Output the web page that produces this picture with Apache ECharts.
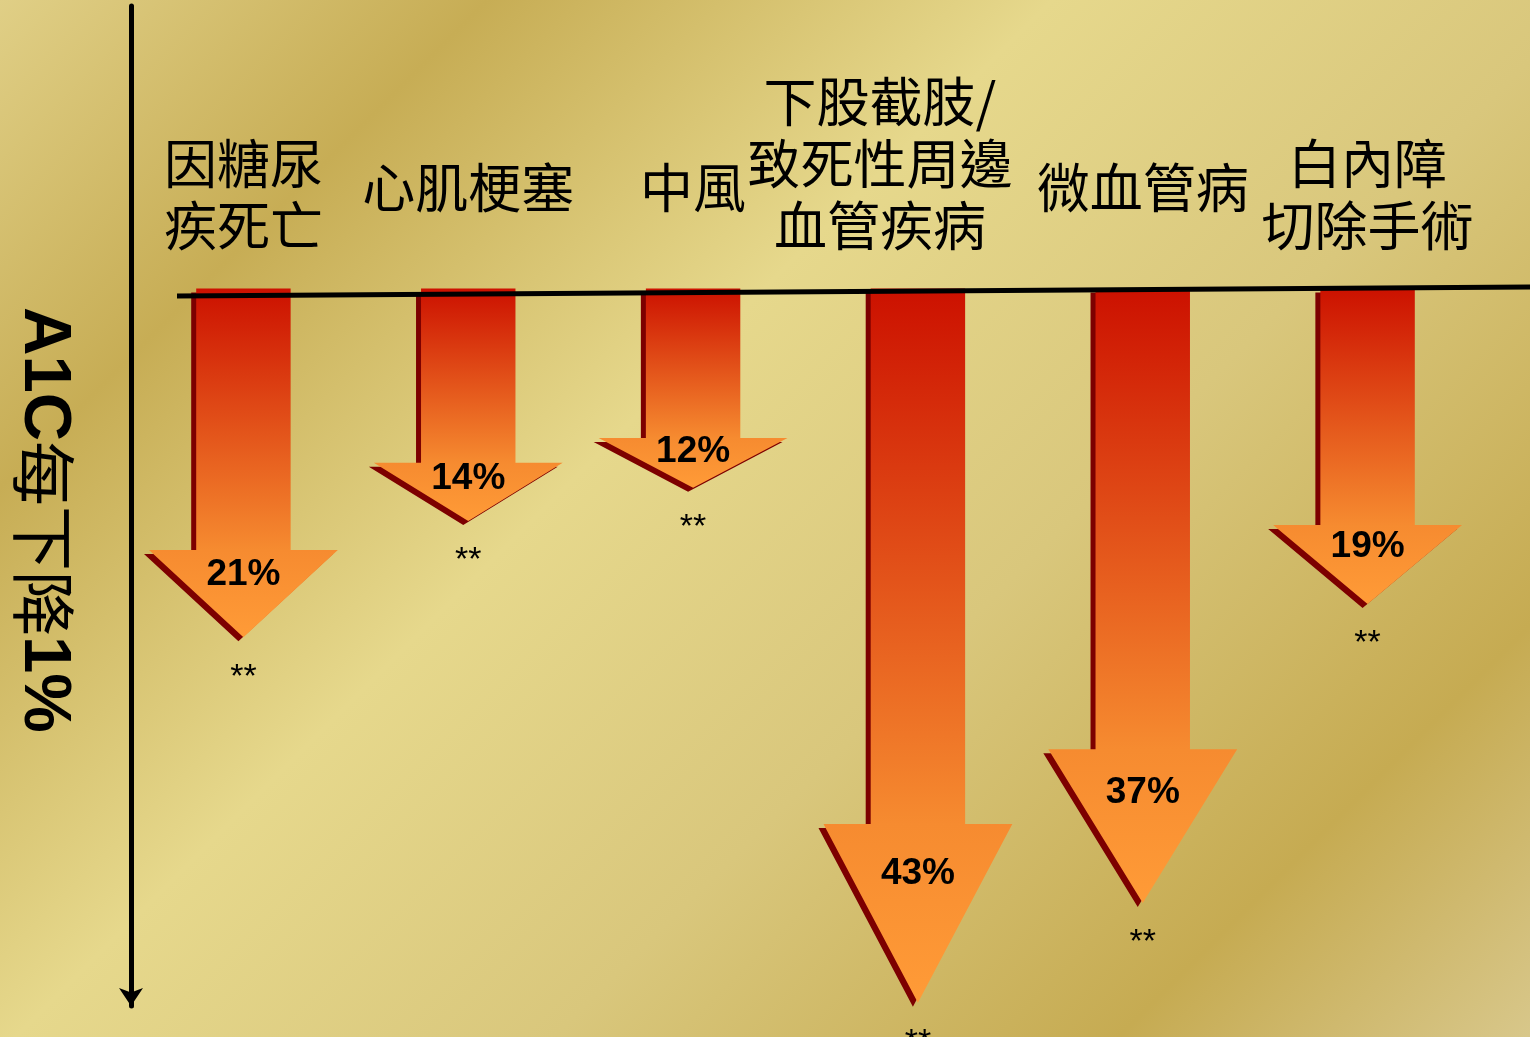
<!DOCTYPE html>
<html>
<head>
<meta charset="utf-8">
<script src="https://cdn.jsdelivr.net/npm/echarts@6/dist/echarts.min.js"></script>
<style>
  html, body { margin: 0; padding: 0; width: 1530px; height: 1037px; overflow: hidden; }
  #chart { width: 1530px; height: 1037px; }
</style>
</head>
<body>
<div id="chart"></div>
<script>
// Outcome categories (labels above the baseline)
const categories = ['因糖尿\n疾死亡', '心肌梗塞', '中風', '下股截肢/\n致死性周邊\n血管疾病', '微血管病', '白內障\n切除手術'];
// Relative risk reduction (%) per 1% drop in A1C
const reductions = [21, 14, 12, 43, 37, 19];
// Significance markers under each arrow
const significance = ['**', '**', '**', '**', '**', '**'];
// Vertical axis title
const axisTitle = ['A1C', '每下降', '1%'];

// Value range of the vertical axis (0 sits on the baseline)
const yMin = -17;
const yMax = 43.2;
const gridTop = 6;
const gridBottom = 31;
const plotHeight = 1037 - gridTop - gridBottom;
// Distance from the grid top down to the zero baseline
const zeroOffset = plotHeight * (0 - yMin) / (yMax - yMin);

const chart = echarts.init(document.getElementById('chart'), null, { renderer: 'canvas' });

const arrowFill = new echarts.graphic.LinearGradient(0, 0, 0, 1, [
  { offset: 0, color: '#cc1100' },
  { offset: 0.75, color: '#f68b30' },
  { offset: 1, color: '#ff9b37' }
]);

function renderArrow(params, api) {
  const idx = api.value(0);
  const val = api.value(1);
  const top = api.coord([idx, 0]);
  const tip = api.coord([idx, val]);
  const cx = top[0];
  const band = api.size([1, 0])[0];
  const sw = band * 0.42;
  const hw = sw * 2;
  const len = tip[1] - top[1];
  const neck = top[1] + len * 0.75;
  const pts = [
    [cx - sw / 2, top[1]], [cx + sw / 2, top[1]], [cx + sw / 2, neck],
    [cx + hw / 2, neck], [cx, tip[1]], [cx - hw / 2, neck], [cx - sw / 2, neck]
  ];
  const shadow = pts.map(p => [p[0] - 5, p[1] + 4]);
  return {
    type: 'group',
    children: [
      { type: 'polygon', shape: { points: shadow }, style: { fill: '#7d0000' } },
      { type: 'polygon', shape: { points: pts }, style: { fill: arrowFill } },
      {
        type: 'text', x: cx, y: top[1] + len * 0.82,
        style: { text: val + '%', font: 'bold 37px "Liberation Sans", Arial, sans-serif', fill: '#000', align: 'center', verticalAlign: 'middle' }
      },
      {
        type: 'text', x: cx, y: tip[1] + 40,
        style: { text: significance[params.dataIndex], font: '34px "Liberation Sans", Arial, sans-serif', fill: '#000', align: 'center', verticalAlign: 'middle' }
      }
    ]
  };
}

// Labels are bottom-aligned; single lines are lifted a little and the
// three-line label is nudged left so it clears its neighbour
const xData = categories.map(c => {
  const lines = c.split('\n').length;
  if (lines === 1) return { value: c, textStyle: { verticalAlign: 'bottom', padding: [0, 0, 38, 0] } };
  if (lines > 2) return { value: c, textStyle: { verticalAlign: 'bottom', padding: [0, 76, 0, 0] } };
  return { value: c, textStyle: { verticalAlign: 'bottom' } };
});

const option = {
  animation: false,
  backgroundColor: 'transparent',
  grid: { left: 131, right: 50, top: gridTop, bottom: gridBottom, containLabel: false, outerBoundsMode: 'none' },
  graphic: [
    {
      type: 'rect', z: -10, silent: true,
      shape: { x: 0, y: 0, width: 1530, height: 1037 },
      style: {
        fill: new echarts.graphic.LinearGradient(0, 0, 1283, 1283, [
          { offset: 0, color: '#e0cf86' },
          { offset: 0.19, color: '#c7ad55' },
          { offset: 0.41, color: '#e6d88c' },
          { offset: 0.62, color: '#d9c77c' },
          { offset: 0.84, color: '#c6ab52' },
          { offset: 1, color: '#d8c78a' }
        ], true)
      }
    },
    {
      type: 'line', z: 100, silent: true,
      shape: { x1: 177, y1: 296, x2: 1530, y2: 287 },
      style: { stroke: '#000', lineWidth: 5 }
    }
  ],
  xAxis: {
    type: 'category',
    data: xData,
    position: 'top',
    offset: -zeroOffset,
    axisLine: { show: false, onZero: false },
    axisTick: { show: false },
    splitLine: { show: false },
    axisLabel: {
      show: true,
      interval: 0,
      margin: 32,
      verticalAlign: 'bottom',
      fontSize: 53,
      lineHeight: 62,
      fontFamily: '"Noto Sans CJK TC", "Noto Sans CJK SC", sans-serif',
      color: '#000'
    }
  },
  yAxis: {
    type: 'value',
    inverse: true,
    min: yMin,
    max: yMax,
    axisLabel: { show: false },
    axisTick: { show: false },
    splitLine: { show: false },
    axisLine: {
      show: true,
      symbol: ['arrow', 'none'],
      symbolSize: [18, 18],
      lineStyle: { color: '#000', width: 5 }
    },
    name: '{a|' + axisTitle[0] + '}{c|' + axisTitle[1] + '}{a|' + axisTitle[2] + '}',
    nameLocation: 'middle',
    nameRotate: -90,
    nameGap: 54,
    nameTextStyle: {
      padding: [0, 0, 0, 28],
      rich: {
        a: { fontFamily: '"Liberation Sans", Arial, sans-serif', fontWeight: 'bold', fontSize: 67, color: '#000' },
        c: { fontFamily: '"Noto Sans CJK TC", sans-serif', fontSize: 65, color: '#000' }
      }
    }
  },
  series: [{
    type: 'custom',
    renderItem: renderArrow,
    data: reductions.map((v, i) => [i, v]),
    encode: { x: 0, y: 1 },
    clip: false
  }]
};

chart.setOption(option);
</script>
</body>
</html>
